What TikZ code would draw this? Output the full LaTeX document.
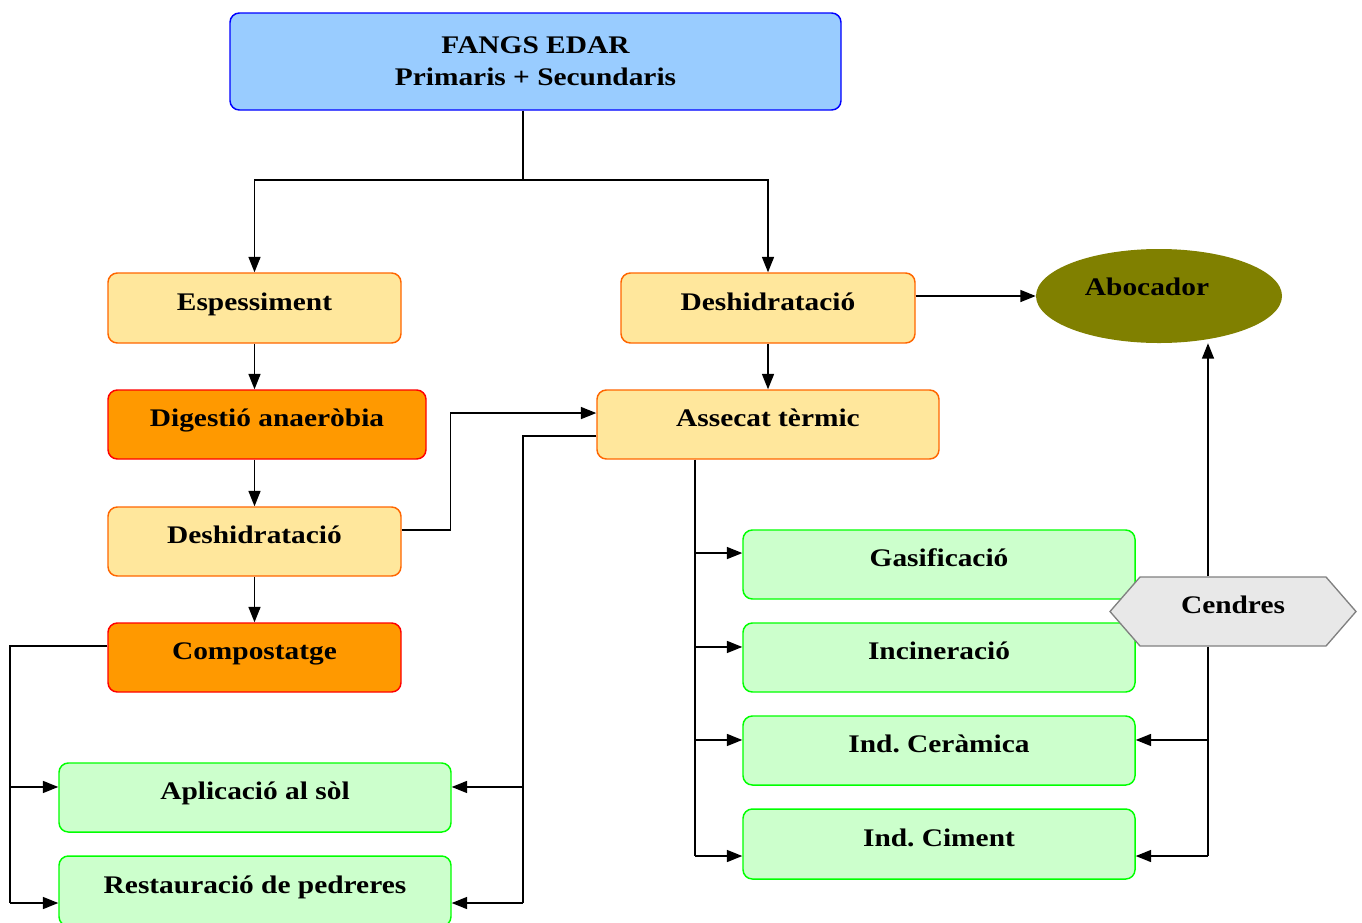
\documentclass[tikz,border=0pt]{standalone}
\usepackage{fontspec}
\setmainfont{Liberation Serif}[FakeStretch=1.16]
\frenchspacing
\usetikzlibrary{arrows.meta,shapes.geometric,shapes.symbols}
\definecolor{bluefill}{HTML}{99CCFF}
\definecolor{blueline}{HTML}{0000FF}
\definecolor{yelfill}{HTML}{FFE79C}
\definecolor{yelline}{HTML}{FF6600}
\definecolor{orfill}{HTML}{FF9900}
\definecolor{orline}{HTML}{FF0000}
\definecolor{grfill}{HTML}{CCFFCC}
\definecolor{grline}{HTML}{00FF00}
\definecolor{olive}{HTML}{808000}
\definecolor{hexfill}{HTML}{E8E8E8}
\definecolor{hexline}{HTML}{808080}
\tikzset{
  box/.style={rectangle, rounded corners=7pt, line width=1.1pt, inner sep=0pt,
    font=\fontsize{19}{24}\selectfont\bfseries, text height=12pt, text depth=9pt},
  topbox/.style={box, draw=blueline, fill=bluefill, minimum width=458.25pt, minimum height=72.75pt, align=center, text height=, text depth=},
  yelbox/.style={box, draw=yelline, fill=yelfill},
  orbox/.style={box, draw=orline, fill=orfill},
  grbox/.style={box, draw=grline, fill=grfill, minimum width=294pt, minimum height=51.75pt},
  arr/.style={line width=1pt, -{Triangle[length=11.5pt,width=9pt]}},
  ln/.style={line width=1pt},
}
\begin{document}
\begin{tikzpicture}[x=0.75pt,y=-0.75pt]
\clip (0,0) rectangle (1362,922);
% nodes
\node[topbox] (top) at (535.5,61.5) {FANGS EDAR\\[0pt]Primaris + Secundaris};
\node[yelbox, minimum width=219.75pt, minimum height=52.5pt] (esp) at (254.5,308) {Espessiment};
\node[yelbox, minimum width=220.5pt, minimum height=52.5pt] (desR) at (768,308) {Deshidratació};
\node[orbox, minimum width=238.5pt, minimum height=51.75pt] (dig) at (267,424.5) {Digestió anaeròbia};
\node[yelbox, minimum width=219.75pt, minimum height=51.75pt] (desL) at (254.5,541.5) {Deshidratació};
\node[orbox, minimum width=219.75pt, minimum height=51.75pt] (comp) at (254.5,657.5) {Compostatge};
\node[yelbox, minimum width=256.5pt, minimum height=51.75pt] (ass) at (768,424.5) {Assecat tèrmic};
\node[grbox] (apl) at (255,797.5) {Aplicació al sòl};
\node[grbox, minimum height=52.5pt] (res) at (255,891) {Restauració de pedreres};
\node[grbox] (gas) at (939,564.5) {Gasificació};
\node[grbox] (inc) at (939,657.5) {Incineració};
\node[grbox] (cer) at (939,750.5) {Ind. Ceràmica};
\node[grbox, minimum height=52.5pt] (cim) at (939,844) {Ind. Ciment};
\node[ellipse, fill=olive, minimum width=184.5pt, minimum height=70.5pt, inner sep=0pt,
  font=\fontsize{19}{24}\selectfont\bfseries, text height=10pt, text depth=11pt] (abo) at (1159,296) {Abocador\hspace*{18pt}};
\node[signal, signal to=west and east, signal pointer angle=98, draw=hexline, fill=hexfill,
  line width=1pt, minimum width=184.5pt, minimum height=51.75pt, inner sep=0pt,
  font=\fontsize{19}{24}\selectfont\bfseries, text height=12pt, text depth=9pt] (cen) at (1233,611.5) {Cendres};
% coordinates
\coordinate (split) at (523,180);
\coordinate (bus0) at (10,903);
\coordinate (bus1) at (523,903);
\coordinate (bus2) at (695,856);
\coordinate (bus3) at (1208,856);
\coordinate (aplL) at ([yshift=7.9pt]apl.west);
\coordinate (aplR) at ([yshift=7.9pt]apl.east);
\coordinate (resL) at ([yshift=-9pt]res.west);
\coordinate (resR) at ([yshift=-9pt]res.east);
\coordinate (gasin) at ([yshift=8.6pt]gas.west);
\coordinate (incin) at ([yshift=7.9pt]inc.west);
\coordinate (cerin) at ([yshift=7.9pt]cer.west);
\coordinate (cimin) at ([yshift=-9pt]cim.west);
\coordinate (cerR) at ([yshift=7.9pt]cer.east);
\coordinate (cimR) at ([yshift=-9pt]cim.east);
% connectors
\draw[ln] (split |- top.south) -- (split);
\draw[arr] (split) -| (esp.north);
\draw[arr] (split) -| (desR.north);
\draw[arr] (desR.east |- abo.west) -- (abo.west);
\draw[arr] (esp.south) -- (esp.south |- dig.north);
\draw[arr] (desL.north |- dig.south) -- (desL.north);
\draw[arr] (desL.south) -- (comp.north);
\draw[arr] (desR.south) -- (ass.north);
\draw[arr] ([yshift=8.6pt]desL.east) -- ++(36.75pt,0) |- ([yshift=8.6pt]ass.west);
\draw[ln] ([yshift=-8.6pt]ass.west) -| (bus1);
\draw[arr] (bus1 |- resR) -- (resR);
\draw[arr] (bus1 |- aplR) -- (aplR);
\draw[ln] ([yshift=8.6pt]comp.west) -| (bus0);
\draw[arr] (bus0 |- aplL) -- (aplL);
\draw[arr] (bus0 |- resL) -- (resL);
\draw[ln] (bus2 |- ass.south) -- (bus2);
\draw[arr] (bus2 |- gasin) -- (gasin);
\draw[arr] (bus2 |- incin) -- (incin);
\draw[arr] (bus2 |- cerin) -- (cerin);
\draw[arr] (bus2) -- (cimin);
\draw[arr] (bus3 |- cen.north) -- (bus3 |- abo.south);
\draw[ln] (bus3 |- cen.south) -- (bus3);
\draw[arr] (bus3 |- cerR) -- (cerR);
\draw[arr] (bus3) -- (cimR);
\end{tikzpicture}
\end{document}
